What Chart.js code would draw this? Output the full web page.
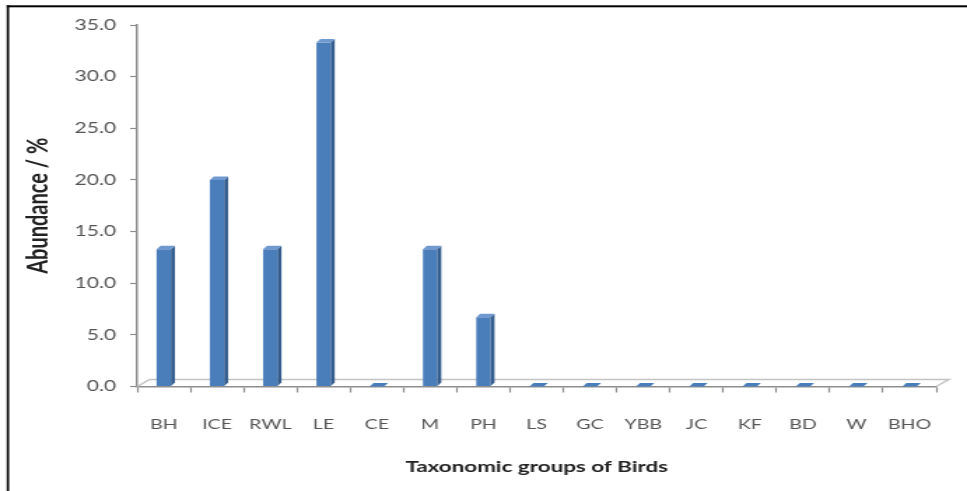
<!DOCTYPE html>
<html>
<head>
<meta charset="utf-8">
<title>Abundance of bird taxonomic groups</title>
<script src="https://cdn.jsdelivr.net/npm/chart.js@4/dist/chart.umd.min.js"></script>
<style>
  html, body { margin: 0; padding: 0; background: #ffffff; overflow: hidden; }
  /* drawing surface is laid out narrow and widened by CSS */
  #chart { display: block; width: 967px !important; height: 491px !important; }
</style>
</head>
<body>
<canvas id="chart" width="691" height="491" style="width:967px;height:491px"></canvas>
<script>
// Taxonomic groups (x categories) and their relative abundance in %
const categories = ['BH', 'ICE', 'RWL', 'LE', 'CE', 'M', 'PH', 'LS', 'GC', 'YBB', 'JC', 'KF', 'BD', 'W', 'BHO'];
const abundance = [13.3, 20.0, 13.3, 33.3, 0, 13.3, 6.7, 0, 0, 0, 0, 0, 0, 0, 0];
const yTickValues = [0, 5, 10, 15, 20, 25, 30, 35];

const FRONT = '#4a7ebb';
const SIDE = '#345d8e';
const TOP = '#7099cf';
const AXIS = '#8e8e8e';
const DEPTH_X = 2.8, DEPTH_Y = 3.5;   // extruded bar depth
const FLOOR_X = 9, FLOOR_Y = 7;       // floor depth

// White page, frame lines on the left and top
const frame = {
  id: 'frame',
  beforeDraw(chart) {
    const ctx = chart.ctx;
    ctx.save();
    ctx.fillStyle = '#ffffff';
    ctx.fillRect(0, 0, chart.width, chart.height);
    ctx.fillStyle = '#000000';
    ctx.fillRect(4.8, 5.3, 1.7, chart.height);
    ctx.fillRect(4.8, 5.3, chart.width, 2);
    ctx.restore();
  }
};

// Floor outline behind the bars
const floor = {
  id: 'floor',
  beforeDatasetsDraw(chart) {
    const { ctx, chartArea: a } = chart;
    ctx.save();
    ctx.strokeStyle = '#c4c4c4';
    ctx.lineWidth = 1.5;
    ctx.beginPath();
    ctx.moveTo(a.left, a.bottom);
    ctx.lineTo(a.left + FLOOR_X, a.bottom - FLOOR_Y);
    ctx.lineTo(a.right + FLOOR_X, a.bottom - FLOOR_Y);
    ctx.lineTo(a.right, a.bottom);
    ctx.stroke();
    ctx.restore();
  }
};

// Side and top faces give each bar its depth
const extrude = {
  id: 'extrude',
  afterDatasetsDraw(chart) {
    const ctx = chart.ctx;
    const meta = chart.getDatasetMeta(0);
    ctx.save();
    meta.data.forEach(bar => {
      const { x, y, base, width } = bar.getProps(['x', 'y', 'base', 'width'], true);
      const l = x - width / 2, r = x + width / 2;
      ctx.fillStyle = SIDE;
      ctx.beginPath();
      ctx.moveTo(r, y);
      ctx.lineTo(r + DEPTH_X, y - DEPTH_Y);
      ctx.lineTo(r + DEPTH_X, base - DEPTH_Y);
      ctx.lineTo(r, base);
      ctx.closePath();
      ctx.fill();
      ctx.fillStyle = y < base - 0.5 ? TOP : FRONT;
      ctx.beginPath();
      ctx.moveTo(l, y);
      ctx.lineTo(l + DEPTH_X, y - DEPTH_Y);
      ctx.lineTo(r + DEPTH_X, y - DEPTH_Y);
      ctx.lineTo(r, y);
      ctx.closePath();
      ctx.fill();
    });
    ctx.restore();
  }
};

new Chart(document.getElementById('chart'), {
  type: 'bar',
  data: {
    labels: categories,
    datasets: [{
      data: abundance,
      backgroundColor: FRONT,
      borderWidth: 0,
      barPercentage: 0.27,
      categoryPercentage: 1.0
    }]
  },
  options: {
    responsive: false,
    devicePixelRatio: 1,
    animation: false,
    layout: { padding: { top: 25, left: 6, right: 22, bottom: 0 } },
    plugins: {
      legend: { display: false },
      tooltip: { enabled: false }
    },
    scales: {
      x: {
        afterFit(scale) { scale.height = 104.5; },
        grid: {
          display: true,
          offset: true,
          drawOnChartArea: false,
          drawTicks: true,
          tickLength: 6,
          tickWidth: 1.2,
          tickColor: AXIS
        },
        border: { display: true, color: AXIS, width: 1.5 },
        ticks: {
          padding: 24,
          maxRotation: 0,
          autoSkip: false,
          color: '#555555',
          font: { family: 'Lato', size: 14 }
        },
        title: {
          display: true,
          text: 'Taxonomic groups of Birds',
          color: '#222222',
          font: { family: 'Lato', size: 16, weight: 'bold' },
          padding: { top: 0, bottom: 15 }
        }
      },
      y: {
        min: 0,
        max: 35,
        afterFit(scale) { scale.width = 92; },
        afterBuildTicks(scale) { scale.ticks = yTickValues.map(v => ({ value: v })); },
        grid: {
          display: true,
          drawOnChartArea: false,
          drawTicks: true,
          tickLength: 5,
          tickWidth: 1.2,
          tickColor: AXIS
        },
        border: { display: true, color: AXIS, width: 1.5 },
        ticks: {
          padding: 10,
          color: '#555555',
          font: { family: 'Lato', size: 15 },
          callback: v => Number(v).toFixed(1)
        },
        title: {
          display: true,
          text: 'Abundance / %',
          color: '#222222',
          font: { family: 'Lato', size: 20, weight: 'bold' },
          padding: { top: 10, bottom: 0 }
        }
      }
    }
  },
  plugins: [frame, floor, extrude]
});
</script>
</body>
</html>
